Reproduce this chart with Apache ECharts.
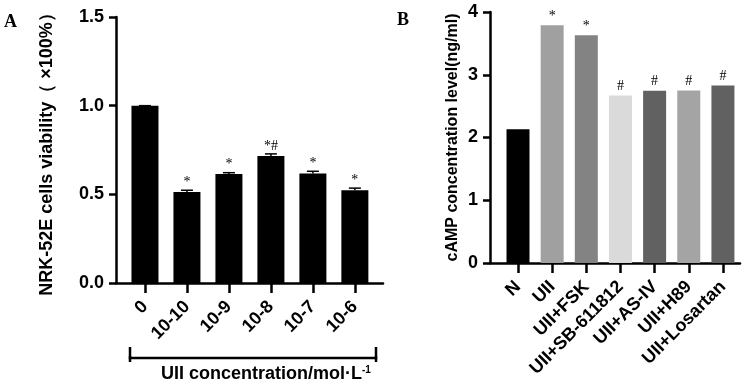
<!DOCTYPE html>
<html>
<head>
<meta charset="utf-8">
<script src="https://cdn.jsdelivr.net/npm/echarts@6/dist/echarts.min.js"></script>
<style>
  html, body { margin: 0; padding: 0; background: #fff; }
  #chart { width: 750px; height: 384px; }
</style>
</head>
<body>
<div id="chart"></div>
<script>
// panel A - cell viability
const catsA = ['0', '10-10', '10-9', '10-8', '10-7', '10-6'];
const valsA = [1.0, 0.513, 0.614, 0.716, 0.618, 0.523];
const errA = [0, 0.01, 0.008, 0.012, 0.012, 0.012];
const marksA = ['', '*', '*', '*#', '*', '*'];
const ticksA = [0, 0.5, 1.0, 1.5];

// panel B - cAMP
const catsB = ['N', 'UII', 'UII+FSK', 'UII+SB-611812', 'UII+AS-IV', 'UII+H89', 'UII+Losartan'];
const valsB = [2.13, 3.79, 3.63, 2.67, 2.745, 2.75, 2.83];
const marksB = ['', '*', '*', '#', '#', '#', '#'];
const colorsB = ['#000000', '#a0a0a0', '#838383', '#dadada', '#616161', '#a4a4a4', '#616161'];
const ticksB = [0, 1, 2, 3, 4];

const idxA = catsA.map((c, i) => i);
const idxB = catsB.map((c, i) => i);
const font = 'Liberation Sans';

const chart = echarts.init(document.getElementById('chart'));

function valueX(gridIndex, cats, idx, min, max) {
  return {
    type: 'value', gridIndex: gridIndex, min: min, max: max,
    splitLine: { show: false },
    axisLine: { onZero: false, lineStyle: { color: '#000', width: 2.5 } },
    axisTick: { customValues: idx, length: 10, lineStyle: { color: '#000', width: 2.5 } },
    axisLabel: {
      customValues: idx, rotate: 45, margin: 21,
      color: '#000', fontFamily: font, fontWeight: 'bold', fontSize: 18,
      formatter: v => cats[Math.round(v)]
    }
  };
}

function valueY(gridIndex, name, max, interval, gap, digits, nameSize) {
  return {
    type: 'value', gridIndex: gridIndex, min: 0, max: max, interval: interval,
    name: name, nameLocation: 'middle', nameGap: gap,
    nameTextStyle: { color: '#000', fontFamily: font, fontWeight: 'bold', fontSize: nameSize },
    splitLine: { show: false },
    axisLine: { show: true, onZero: false, lineStyle: { color: '#000', width: 2.5 } },
    axisTick: { show: true, length: 7, lineStyle: { color: '#000', width: 2.5 } },
    axisLabel: {
      margin: 12, color: '#000', fontFamily: font, fontWeight: 'bold', fontSize: 18,
      formatter: v => v.toFixed(digits)
    }
  };
}

chart.setOption({
  animation: false,
  grid: [
    { left: 116, top: 17, width: 267, height: 266 },
    { left: 490, top: 12, width: 250, height: 251 }
  ],
  xAxis: [
    valueX(0, catsA, idxA, -0.69, 5.67),
    valueX(1, catsB, idxB, -0.82, 6.5)
  ],
  yAxis: [
    valueY(0, 'NRK-52E cells viability\uff08 \u00d7100%\uff09', 1.5, 0.5, 60, 1, 18),
    valueY(1, 'cAMP concentration level(ng/ml)', 4, 1, 29, 0, 16)
  ],
  series: [
    {
      type: 'bar', xAxisIndex: 0, yAxisIndex: 0, barWidth: 27,
      itemStyle: { color: '#000' },
      label: {
        show: true, position: 'top', distance: 3,
        color: '#000', fontFamily: 'Liberation Serif', fontSize: 14,
        formatter: p => marksA[p.dataIndex]
      },
      data: valsA.map((v, i) => [i, v])
    },
    {
      type: 'custom', xAxisIndex: 0, yAxisIndex: 0, z: 3,
      renderItem: (params, api) => {
        const top = api.coord([api.value(0), api.value(1) + api.value(2)]);
        const base = api.coord([api.value(0), api.value(1)]);
        const st = { stroke: '#000', lineWidth: 1.5 };
        return {
          type: 'group', children: [
            { type: 'line', shape: { x1: top[0], y1: top[1], x2: base[0], y2: base[1] }, style: st },
            { type: 'line', shape: { x1: top[0] - 6, y1: top[1], x2: top[0] + 6, y2: top[1] }, style: st }
          ]
        };
      },
      data: valsA.map((v, i) => [i, v, errA[i]])
    },
    {
      type: 'bar', xAxisIndex: 1, yAxisIndex: 1, barWidth: 23,
      label: {
        show: true, position: 'top', distance: 2,
        color: '#000', fontFamily: 'Liberation Serif', fontSize: 14,
        formatter: p => marksB[p.dataIndex]
      },
      data: valsB.map((v, i) => ({ value: [i, v], itemStyle: { color: colorsB[i] } }))
    }
  ],
  graphic: [
    { type: 'text', left: 4, top: 13, style: { text: 'A', fill: '#000', font: 'bold 18px "Liberation Serif"' } },
    { type: 'text', left: 397, top: 11, style: { text: 'B', fill: '#000', font: 'bold 18px "Liberation Serif"' } },
    {
      type: 'polyline',
      shape: { points: [[130, 347], [130, 358], [376, 358], [376, 347]] },
      style: { stroke: '#000', lineWidth: 2.5, fill: null }
    },
    { type: 'line', shape: { x1: 130, y1: 356, x2: 130, y2: 362 }, style: { stroke: '#000', lineWidth: 2.5 } },
    { type: 'line', shape: { x1: 376, y1: 356, x2: 376, y2: 362 }, style: { stroke: '#000', lineWidth: 2.5 } },
    {
      type: 'text', left: 161, top: 365,
      style: {
        text: '{a|UII concentration/mol\u00b7L}{b|-1}',
        rich: {
          a: { fontFamily: font, fontWeight: 'bold', fontSize: 18, fill: '#000' },
          b: { fontFamily: font, fontWeight: 'bold', fontSize: 10, fill: '#000', verticalAlign: 'top' }
        }
      }
    }
  ]
});

window.addEventListener('resize', function () {
  chart.resize();
});
</script>
</body>
</html>
